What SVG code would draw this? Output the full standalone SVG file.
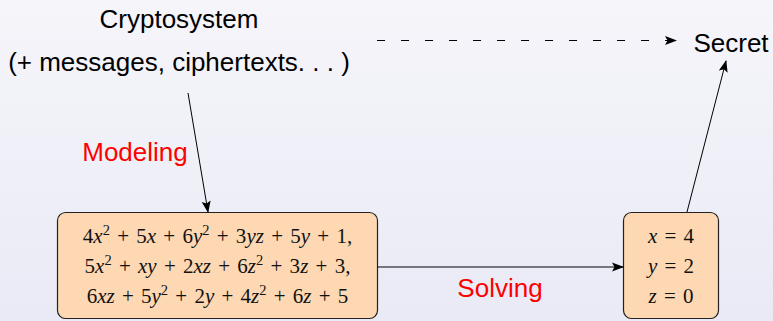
<svg xmlns="http://www.w3.org/2000/svg" width="773" height="321" viewBox="0 0 773 321">
<defs>
<linearGradient id="bg" x1="0" y1="0" x2="0" y2="1">
<stop offset="0" stop-color="#f5f5fa"/>
<stop offset="1" stop-color="#eaeaf6"/>
</linearGradient>
<marker id="ah" viewBox="0 0 12 10" refX="11" refY="5" markerWidth="12" markerHeight="10" markerUnits="userSpaceOnUse" orient="auto">
<path d="M0,0.5 L12,5 L0,9.5 L2.5,5 Z" fill="#000"/>
</marker>
</defs>
<style>
.sans{font-family:"Liberation Sans",Arial,sans-serif;font-size:26px;fill:#000}
.red{fill:#ff0000}
.box{fill:#fdd8b2;stroke:#222;stroke-width:1.2}
.math{font-family:"Liberation Serif","Times New Roman",serif;font-size:21px;fill:#111;word-spacing:2px}
.v{font-style:italic}
.conn{stroke:#000;stroke-width:1;fill:none}
</style>
<rect width="773" height="321" fill="url(#bg)"/>
<g id="cryptosystem">
<text class="sans" x="179" y="28" text-anchor="middle">Cryptosystem</text>
<text class="sans" x="179" y="71" text-anchor="middle">(+ messages, ciphertexts. . . )</text>
</g>
<g id="secret">
<text class="sans" x="731" y="52" text-anchor="middle">Secret</text>
</g>
<g id="system">
<rect class="box" x="57.5" y="212.5" width="320" height="106" rx="8"/>
<text class="math" x="217.5" y="243" text-anchor="middle">4<tspan class="v">x</tspan><tspan font-size="14.5" dy="-8">2</tspan><tspan dy="8"> + 5</tspan><tspan class="v">x</tspan> + 6<tspan class="v">y</tspan><tspan font-size="14.5" dy="-8">2</tspan><tspan dy="8"> + 3</tspan><tspan class="v">yz</tspan> + 5<tspan class="v">y</tspan> + 1,</text>
<text class="math" x="217.5" y="273" text-anchor="middle">5<tspan class="v">x</tspan><tspan font-size="14.5" dy="-8">2</tspan><tspan dy="8"> + </tspan><tspan class="v">xy</tspan> + 2<tspan class="v">xz</tspan> + 6<tspan class="v">z</tspan><tspan font-size="14.5" dy="-8">2</tspan><tspan dy="8"> + 3</tspan><tspan class="v">z</tspan> + 3,</text>
<text class="math" x="217.5" y="303" text-anchor="middle">6<tspan class="v">xz</tspan> + 5<tspan class="v">y</tspan><tspan font-size="14.5" dy="-8">2</tspan><tspan dy="8"> + 2</tspan><tspan class="v">y</tspan> + 4<tspan class="v">z</tspan><tspan font-size="14.5" dy="-8">2</tspan><tspan dy="8"> + 6</tspan><tspan class="v">z</tspan> + 5</text>
</g>
<g id="solution">
<rect class="box" x="623.5" y="212.5" width="95" height="106" rx="8"/>
<text class="math" x="671" y="243" text-anchor="middle"><tspan class="v">x</tspan> = 4</text>
<text class="math" x="671" y="273" text-anchor="middle"><tspan class="v">y</tspan> = 2</text>
<text class="math" x="671" y="303" text-anchor="middle"><tspan class="v">z</tspan> = 0</text>
</g>
<g id="connectors">
<line class="conn" x1="188" y1="93" x2="208" y2="212" marker-end="url(#ah)"/>
<line class="conn" x1="378" y1="267" x2="623" y2="267" marker-end="url(#ah)"/>
<line class="conn" x1="687" y1="212" x2="726" y2="61" marker-end="url(#ah)"/>
<line class="conn" x1="377" y1="40.5" x2="676" y2="40.5" stroke="#333" stroke-dasharray="8 16" marker-end="url(#ah)"/>
<text class="sans red" x="135" y="161" text-anchor="middle">Modeling</text>
<text class="sans red" x="500" y="297" text-anchor="middle">Solving</text>
</g>
</svg>
